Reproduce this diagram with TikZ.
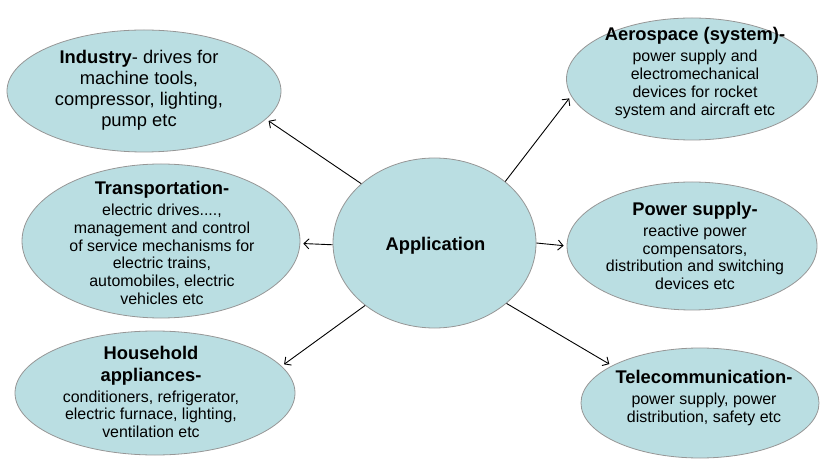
\documentclass[tikz,border=0pt]{standalone}
\usepackage{fontspec}
\setmainfont{Liberation Sans}
\usetikzlibrary{shapes.geometric,arrows.meta}

\definecolor{bubblefill}{RGB}{186,222,226}
\definecolor{bordergray}{RGB}{150,150,150}
\newcommand{\hd}[1]{{\fontsize{18.4}{21}\selectfont\bfseries #1}}

\begin{document}
\begin{tikzpicture}[x=1bp, y=-1bp,
	bubble/.style={ellipse, draw=bordergray, fill=bubblefill, line width=0.8pt, inner sep=0pt},
	txt/.style={align=center, inner sep=0pt, font=\fontsize{16}{18}\selectfont},
	link/.style={-{Straight Barb[length=5bp, width=10bp]}, line width=0.9pt, shorten >=3bp}]
	\useasboundingbox (0, 0) rectangle (826, 460);
	
	\node[bubble, minimum width=203bp, minimum height=170bp] (app) at (434.5, 243) {};
	\node[bubble, minimum width=274bp, minimum height=122bp] (ind) at (144, 91) {};
	\node[bubble, minimum width=278bp, minimum height=154bp] (tra) at (161, 241) {};
	\node[bubble, minimum width=280bp, minimum height=124bp] (hou) at (155, 393) {};
	\node[bubble, minimum width=251bp, minimum height=122bp] (aer) at (692, 79) {};
	\node[bubble, minimum width=250bp, minimum height=128bp] (pow) at (692, 246) {};
	\node[bubble, minimum width=238bp, minimum height=110bp] (tel) at (700, 403) {};
	
	\node[txt] (apptxt) at (435.5, 246) {\hd{Application}};
	\node[txt, font=\fontsize{18.4}{21}\selectfont] (indtxt) at (139, 90) {\textbf{Industry}- drives for\\ machine tools,\\ compressor, lighting,\\ pump etc};
	\node[txt] (tratxt) at (162, 243) {\hd{Transportation-}\\[3bp] electric drives....,\\ management and control\\ of service mechanisms for\\ electric trains,\\ automobiles, electric\\ vehicles etc};
	\node[txt] (houtxt) at (151, 392) {\hd{Household}\\[4bp] \hd{appliances-}\\[3bp] conditioners, refrigerator,\\ electric furnace, lighting,\\ ventilation etc};
	\node[txt] (aertxt) at (695, 73) {\hd{Aerospace (system)-}\\[3bp] power supply and\\ electromechanical\\ devices for rocket\\ system and aircraft etc};
	\node[txt] (powtxt) at (695, 246) {\hd{Power supply-}\\[3bp] reactive power\\ compensators,\\ distribution and switching\\ devices etc};
	\node[txt] (teltxt) at (704, 398) {\hd{Telecommunication-}\\[3bp] power supply, power\\ distribution, safety etc};
	
	\draw[link] (app.141) -- (ind.347);
	\draw[link] (app.181) -- (tra.359);
	\draw[link] (app.222) -- (hou.12);
	\draw[link] (app.41) -- (aer.188);
	\draw[link] (app.0) -- (pow.180);
	\draw[link] (app.320) -- (tel.157);
\end{tikzpicture}
\end{document}
